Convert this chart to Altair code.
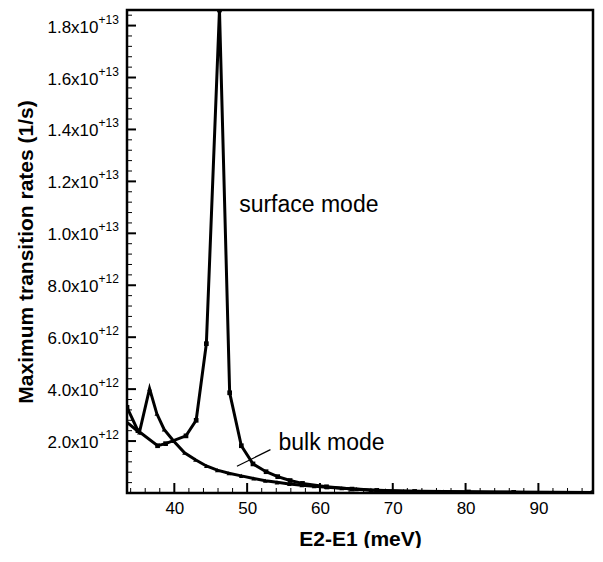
import altair as alt
import pandas as pd

# ---- data (y in units of 1e12 1/s) ----
surf_x = [33.5, 35.0, 37.7, 38.8, 41.6, 43.0, 44.4, 46.2, 47.6, 49.2, 50.8, 52.6, 54.2,
          55.9, 57.6, 60.9, 64.4, 67.8, 73.0, 80.4, 86.6, 97.5]
surf_y = [3.3, 2.4, 1.82, 1.9, 2.2, 2.8, 5.75, 18.6, 3.86, 1.82, 1.12, 0.82, 0.63,
          0.48, 0.37, 0.24, 0.15, 0.10, 0.06, 0.04, 0.025, 0.01]

bulk_x = [33.5, 35.2, 36.6, 37.6, 38.6, 39.9, 41.4, 42.9, 44.4, 45.9, 47.5, 49.2, 50.9,
          52.5, 54.1, 55.8, 57.5, 59.2, 61.0, 63.0, 65.0, 67.0, 69.0, 71.5, 74.0, 77.0,
          80.5, 84.0, 88.0, 92.0, 97.5]
bulk_y = [2.72, 2.33, 4.02, 3.05, 2.45, 2.0, 1.55, 1.28, 1.04, 0.88, 0.76, 0.66, 0.56,
          0.47, 0.41, 0.35, 0.30, 0.26, 0.22, 0.18, 0.15, 0.12, 0.10, 0.08, 0.07, 0.06,
          0.05, 0.04, 0.03, 0.025, 0.02]

x_major = [40, 50, 60, 70, 80, 90]
x_minor = [v for v in range(34, 98, 2) if v % 10 != 0]
y_major = [2, 4, 6, 8, 10, 12, 14, 16, 18]
y_minor = [round(0.4 * i, 1) for i in range(1, 47) if i % 5 != 0]
y_mant = ["2.0x10", "4.0x10", "6.0x10", "8.0x10", "1.0x10", "1.2x10", "1.4x10", "1.6x10", "1.8x10"]
y_exp = ["+12", "+12", "+12", "+12", "+13", "+13", "+13", "+13", "+13"]

annot_x = [48.9, 54.3]
annot_y = [11.1, 1.92]
annot_text = ["surface mode", "bulk mode"]

ptr_x, ptr_x2 = [48.6], [53.2]
ptr_y, ptr_y2 = [1.03], [1.67]

FONT = "Liberation Sans"
W, H = 466, 483
X_TITLE = "E2-E1 (meV)"
Y_TITLE = "Maximum transition rates (1/s)"

xs = alt.Scale(domain=[33.5, 97.5], nice=False, zero=False)
ys = alt.Scale(domain=[0, 18.6], nice=False, zero=False)

x_axis = alt.Axis(values=x_major, ticks=False, domain=False, grid=False,
                  labelFontSize=17, labelPadding=7, labelColor="black", labelFont=FONT,
                  titleFontSize=21, titleFontWeight="bold", titleColor="black", titleFont=FONT,
                  titleY=46, titleBaseline="middle")
y_axis = alt.Axis(labels=False, ticks=False, domain=False, grid=False,
                  titleFontSize=21, titleFontWeight="bold", titleColor="black", titleFont=FONT,
                  titleAngle=-90, titleX=-101, titleY=H / 2, titleBaseline="middle", titleAlign="center")


def X(f="x:Q"):
    return alt.X(f, scale=xs, axis=x_axis, title=X_TITLE)


def Y(f="y:Q"):
    return alt.Y(f, scale=ys, axis=y_axis, title=Y_TITLE)


surf_df = pd.DataFrame({"x": surf_x, "y": surf_y})
bulk_df = pd.DataFrame({"x": bulk_x, "y": bulk_y})

surf = alt.Chart(surf_df).mark_line(
    color="black", strokeWidth=3, clip=True,
    point=alt.OverlayMarkDef(shape="square", size=22, filled=True, color="black")
).encode(x=X(), y=Y())

bulk = alt.Chart(bulk_df).mark_line(
    color="black", strokeWidth=3, clip=True,
    point=alt.OverlayMarkDef(shape="triangle-up", size=22, filled=True, color="black")
).encode(x=X(), y=Y())

ymaj = alt.Chart(pd.DataFrame({"y": y_major})).mark_rule(color="black", strokeWidth=2).encode(
    y=Y(), x=alt.value(0), x2=alt.value(9))
ymin = alt.Chart(pd.DataFrame({"y": y_minor})).mark_rule(color="black", strokeWidth=1).encode(
    y=Y(), x=alt.value(0), x2=alt.value(5))
xmaj = alt.Chart(pd.DataFrame({"x": x_major})).mark_rule(color="black", strokeWidth=2).encode(
    x=X(), y=alt.value(H), y2=alt.value(H - 10))
xmin = alt.Chart(pd.DataFrame({"x": x_minor})).mark_rule(color="black", strokeWidth=1).encode(
    x=X(), y=alt.value(H), y2=alt.value(H - 5))

ylab_df = pd.DataFrame({"y": y_major, "m": y_mant, "e": y_exp})
ylab_main = alt.Chart(ylab_df).mark_text(
    align="right", baseline="alphabetic", dy=7, fontSize=17, font=FONT, color="black"
).encode(y=Y(), x=alt.value(-28.5), text="m:N")
ylab_exp = alt.Chart(ylab_df).mark_text(
    align="left", baseline="alphabetic", dy=-2, fontSize=12, font=FONT, color="black"
).encode(y=Y(), x=alt.value(-28.5), text="e:N")

annot = alt.Chart(pd.DataFrame({"x": annot_x, "y": annot_y, "t": annot_text})).mark_text(
    align="left", baseline="middle", fontSize=23, font=FONT, color="black"
).encode(x=X(), y=Y(), text="t:N")

ptr = alt.Chart(pd.DataFrame({"x": ptr_x, "x2": ptr_x2, "y": ptr_y, "y2": ptr_y2})).mark_rule(
    color="black", strokeWidth=1.2
).encode(x=X(), x2="x2:Q", y=Y(), y2="y2:Q")

chart = alt.layer(surf, bulk, ymaj, ymin, xmaj, xmin, ylab_main, ylab_exp, annot, ptr).properties(
    width=W, height=H,
    autosize=alt.AutoSizeParams(type="none"),
    padding={"left": 119, "top": 2, "right": 2, "bottom": 55},
).configure(font=FONT, background="white").configure_view(stroke="black", strokeWidth=2.5)

chart.save("out.html", embed_options={"renderer": "svg", "actions": False})
